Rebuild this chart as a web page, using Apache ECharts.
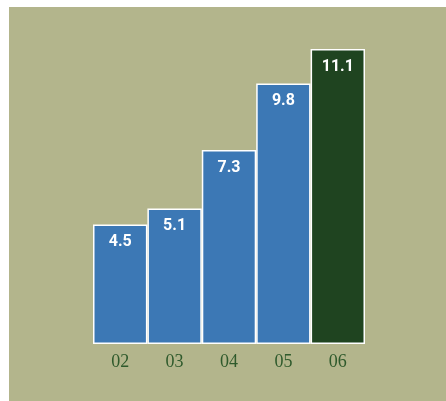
<!DOCTYPE html>
<html>
<head>
<meta charset="utf-8">
<style>
html,body{margin:0;padding:0;background:#ffffff;}
#wrap{position:absolute;left:9px;top:7px;width:437px;height:394px;background:#b3b58c;}
#chart{position:absolute;left:0;top:0;width:446px;height:401px;}
</style>
<script src="https://cdn.jsdelivr.net/npm/echarts@6/dist/echarts.min.js"></script>
</head>
<body>
<div id="wrap"></div>
<div id="chart"></div>
<script>
const categories = ['02', '03', '04', '05', '06'];
const values = [4.5, 5.1, 7.3, 9.8, 11.1];
const highlightIndex = 4;

const chart = echarts.init(document.getElementById('chart'), null, {renderer: 'canvas'});
chart.setOption({
  backgroundColor: 'transparent',
  animation: false,
  grid: {left: 93, width: 272, bottom: 57, top: 25, containLabel: false},
  xAxis: {
    type: 'category',
    data: categories,
    axisLine: {show: false},
    axisTick: {show: false},
    axisLabel: {
      color: '#2f5a2c',
      fontFamily: 'Liberation Serif, DejaVu Serif, serif',
      fontSize: 18,
      margin: 9
    }
  },
  yAxis: {
    type: 'value',
    min: 0,
    max: 12,
    show: false,
    splitLine: {show: false}
  },
  series: [{
    type: 'bar',
    barCategoryGap: '0%',
    data: values.map((v, i) => ({
      value: v,
      itemStyle: {color: i === highlightIndex ? '#1f4420' : '#3c78b5'}
    })),
    itemStyle: {borderColor: '#ffffff', borderWidth: 1.5},
    label: {
      show: true,
      position: 'insideTop',
      distance: 10,
      color: '#ffffff',
      fontFamily: 'Roboto, Noto Sans, sans-serif',
      fontWeight: 'bold',
      fontSize: 16
    }
  }]
});
</script>
</body>
</html>
